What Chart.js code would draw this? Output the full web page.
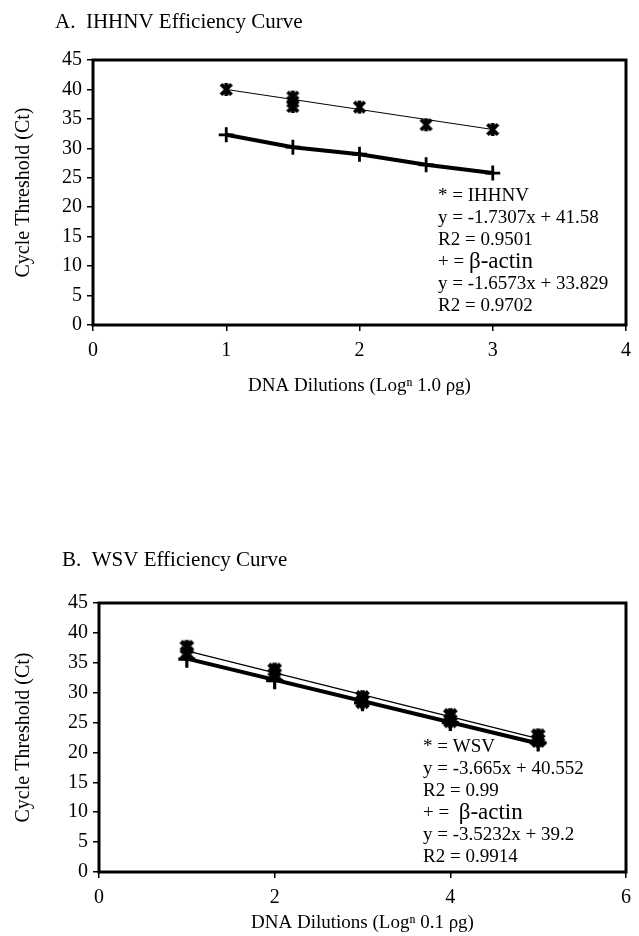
<!DOCTYPE html>
<html lang="en">
  <head>
    <meta charset="utf-8">
    <title>Efficiency curves</title>
    <script src="https://cdn.jsdelivr.net/npm/chart.js@4.4.1/dist/chart.umd.min.js"></script>
    <style>
      body { margin: 0; background: #fff; width: 639px; height: 936px; overflow: hidden; position: relative; }
      .box { position: absolute; left: 0; width: 639px; height: 468px; }
    </style>
  </head>
  <body>
    <div class="box" style="top:0"><canvas id="chartA" width="639" height="468"></canvas></div>
    <div class="box" style="top:468px"><canvas id="chartB" width="639" height="468"></canvas></div>
    <script>
      // A. IHHNV (replicates at 1.5 overlap)
      const ihhnvDil = [1, 1.5, 1.5, 1.5, 2, 2.5, 3];
      const ihhnvCt = [40.0, 38.7, 37.9, 37.1, 37.0, 34.0, 33.2];
      const ihhnvTrendDil = [1, 3];
      const ihhnvTrendCt = [40.0, 33.2];
      const actinADil = [1, 1.5, 2, 2.5, 3];
      const actinACt = [32.3, 30.2, 29.0, 27.2, 25.8];

      // B. WSV (two replicates per dilution)
      const wsvDil = [1, 1, 2, 2, 3, 3, 4, 4, 5, 5];
      const wsvCt = [37.6, 36.6, 33.8, 33.0, 29.2, 28.5, 26.2, 25.3, 22.8, 22.0];
      const wsvTrendDil = [1, 5];
      const wsvTrendCt = [37.0, 22.3];
      const actinBDil = [1, 2, 3, 4, 5];
      const actinBCt = [35.6, 32.0, 28.3, 25.0, 21.6];
      const actinBTrendCt = [35.7, 21.5];

      const yTickMax = 45, yTickStep = 5;
      const xTickA = { max: 4, step: 1 };
      const xTickB = { max: 6, step: 2 };

      const titleA = 'A.  IHHNV Efficiency Curve';
      const titleB = 'B.  WSV Efficiency Curve';
      const yTitle = 'Cycle Threshold (Ct)';
      const xTitleA = 'DNA Dilutions (Logⁿ 1.0 ρg)';
      const xTitleB = 'DNA Dilutions (Logⁿ 0.1 ρg)';
      const noteA = [['* = IHHNV'], ['y = -1.7307x + 41.58'], ['R2 = 0.9501'],
                     ['+ = ', 'β-actin'], ['y = -1.6573x + 33.829'], ['R2 = 0.9702']];
      const noteB = [['* = WSV'], ['y = -3.665x + 40.552'], ['R2 = 0.99'],
                     ['+ =  ', 'β-actin'], ['y = -3.5232x + 39.2'], ['R2 = 0.9914']];

      const serif = '"Liberation Serif", "DejaVu Serif", serif';

      function pts(xs, ys) { return xs.map((x, i) => ({ x: x, y: ys[i] })); }

      // asterisk marker: X plus a vertical stroke
      function starMarker(size, lw) {
        const c = document.createElement('canvas');
        c.width = c.height = size;
        const g = c.getContext('2d');
        g.strokeStyle = '#000';
        g.lineWidth = lw;
        const m = size / 2, r = size / 2 - lw / 2;
        g.beginPath();
        g.moveTo(m - r * 0.8, m - r * 0.8); g.lineTo(m + r * 0.8, m + r * 0.8);
        g.moveTo(m + r * 0.8, m - r * 0.8); g.lineTo(m - r * 0.8, m + r * 0.8);
        g.moveTo(m, m - r); g.lineTo(m, m + r);
        g.stroke();
        return c;
      }
      const starA = starMarker(17, 3.8);
      const starB = starMarker(19, 4.5);

      const frame = {
        id: 'frame',
        beforeDatasetsDraw(chart) {
          const a = chart.chartArea, ctx = chart.ctx;
          ctx.save();
          ctx.strokeStyle = '#000';
          ctx.lineWidth = 3;
          ctx.strokeRect(a.left, a.top, a.right - a.left, a.bottom - a.top);
          ctx.restore();
        }
      };

      const notes = {
        id: 'notes',
        afterDraw(chart, args, o) {
          const ctx = chart.ctx;
          ctx.save();
          ctx.fillStyle = '#000';
          ctx.textBaseline = 'middle';
          ctx.font = '21px ' + serif;
          ctx.fillText(o.title, o.titleX, o.titleY);
          o.lines.forEach((ln, i) => {
            const y = o.y + i * o.step;
            ctx.font = '19px ' + serif;
            ctx.fillText(ln[0], o.x, y);
            if (ln[1]) {
              const w = ctx.measureText(ln[0]).width;
              ctx.font = '23px ' + serif;
              ctx.fillText(ln[1], o.x + w, y);
            }
          });
          ctx.restore();
        }
      };

      function makeChart(id, datasets, cfg) {
        return new Chart(document.getElementById(id), {
          type: 'scatter',
          data: { datasets: datasets },
          options: {
            responsive: false,
            animation: false,
            layout: { padding: { top: cfg.padTop, bottom: cfg.padBottom, left: 0, right: 9 } },
            plugins: {
              legend: { display: false },
              tooltip: { enabled: false },
              notes: cfg.notes
            },
            scales: {
              x: {
                type: 'linear', min: 0, max: cfg.xTicks.max,
                ticks: { stepSize: cfg.xTicks.step, color: '#000', font: { family: serif, size: 20 }, padding: 8 },
                grid: { drawOnChartArea: false, color: '#000', tickLength: 6, lineWidth: 1.5 },
                border: { display: false },
                title: { display: true, text: cfg.xTitle, color: '#000', font: { family: serif, size: 19 },
                         padding: { top: 0, bottom: cfg.xTitlePad } },
                afterFit(s) { s.height = cfg.xHeight; }
              },
              y: {
                min: 0, max: yTickMax,
                ticks: { stepSize: yTickStep, color: '#000', font: { family: serif, size: 20 }, padding: 5 },
                grid: { drawOnChartArea: false, color: '#000', tickLength: 6, lineWidth: 1.5 },
                border: { display: false },
                title: { display: true, text: yTitle, color: '#000', font: { family: serif, size: 20 },
                         padding: { top: 12, bottom: 0 } },
                afterFit(s) { s.width = cfg.yWidth; }
              }
            }
          },
          plugins: [frame, notes]
        });
      }

      makeChart('chartA', [
        { data: pts(ihhnvTrendDil, ihhnvTrendCt), showLine: true, borderColor: '#000', borderWidth: 1, pointRadius: 0 },
        { data: pts(actinADil, actinACt), showLine: true, borderColor: '#000', borderWidth: 4,
          pointStyle: 'cross', pointRadius: 7.5, pointBorderWidth: 2.8, pointBorderColor: '#000' },
        { data: pts(ihhnvDil, ihhnvCt), pointStyle: starA, pointRadius: 8 }
      ], {
        padTop: 60, padBottom: 58, xHeight: 85, yWidth: 93, xTitlePad: 13,
        xTicks: xTickA, xTitle: xTitleA,
        notes: { title: titleA, titleX: 55, titleY: 22, lines: noteA, x: 438, y: 196, step: 22 }
      });

      makeChart('chartB', [
        { data: pts(wsvTrendDil, wsvTrendCt), showLine: true, borderColor: '#000', borderWidth: 1.2, pointRadius: 0 },
        { data: pts(wsvTrendDil, actinBTrendCt), showLine: true, borderColor: '#000', borderWidth: 4, pointRadius: 0 },
        { data: pts(actinBDil, actinBCt), pointStyle: 'cross', pointRadius: 8.5, pointBorderWidth: 3.2, pointBorderColor: '#000' },
        { data: pts(wsvDil, wsvCt), pointStyle: starB, pointRadius: 9 }
      ], {
        padTop: 135, padBottom: 0, xHeight: 64, yWidth: 99, xTitlePad: 2,
        xTicks: xTickB, xTitle: xTitleB,
        notes: { title: titleB, titleX: 62, titleY: 92, lines: noteB, x: 423, y: 279, step: 22 }
      });
    </script>
  </body>
</html>
